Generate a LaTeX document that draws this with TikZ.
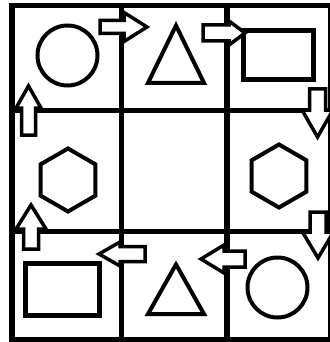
\documentclass[tikz,border=0pt]{standalone}
\begin{document}
\begin{tikzpicture}[x=1pt,y=-1pt,
  gridline/.style={line width=5.5pt,line cap=rect},
  shapeline/.style={line width=4pt,line join=miter},
  boxline/.style={line width=5pt},
  blockarrow/.style={draw=black,fill=white,line width=3.5pt,line join=miter}]
\useasboundingbox (0,0) rectangle (329,342);
\fill[white] (0,0) rectangle (329,342);
% frame and grid
\draw[gridline] (12,5.5) -- (331,5.5);
\draw[gridline] (12,339.5) -- (331,339.5);
\draw[gridline] (12,5.5) -- (12,339.5);
\draw[gridline] (331,5.5) -- (331,339.5);
\draw[gridline] (121.5,5.5) -- (121.5,339.5);
\draw[gridline] (227,5.5) -- (227,339.5);
\draw[line width=5pt] (12,110) -- (331,110);
\draw[line width=5pt] (12,231) -- (331,231);
% shapes
\draw[shapeline] (67.5,55.5) circle[radius=30];
\draw[shapeline] (176,25.5) -- (204,83) -- (148,83) -- cycle;
\draw[boxline] (243,30.5) rectangle (313,79.5);
\draw[shapeline] (68,180) +(90:31.5) -- +(150:31.5) -- +(210:31.5) -- +(270:31.5) -- +(330:31.5) -- +(30:31.5) -- cycle;
\draw[shapeline] (279,176) +(90:31.5) -- +(150:31.5) -- +(210:31.5) -- +(270:31.5) -- +(330:31.5) -- +(30:31.5) -- cycle;
\draw[boxline] (25.5,263.5) rectangle (99.5,315.5);
\draw[shapeline] (176,264.5) -- (204,314) -- (148,314) -- cycle;
\draw[shapeline] (277.5,287.5) circle[radius=30];
% block arrows
% right arrows
\draw[blockarrow] (100,20.5) -- (124,20.5) -- (124,12.5) -- (147,27) -- (124,41.5) -- (124,33.5) -- (100,33.5) -- cycle;
\draw[blockarrow] (203,25) -- (229,25) -- (229,21) -- (245,33) -- (229,45) -- (229,41) -- (203,41) -- cycle;
% down arrows
\draw[blockarrow] (309.5,89) -- (325.5,89) -- (325.5,110) -- (333,110) -- (317.5,137) -- (302,110) -- (309.5,110) -- cycle;
\draw[blockarrow] (310,212) -- (326,212) -- (326,232) -- (333.5,232) -- (318,258) -- (302.5,232) -- (310,232) -- cycle;
% up arrows
\draw[blockarrow] (21.5,135) -- (21.5,108) -- (16,108) -- (28.5,86) -- (41,108) -- (35.5,108) -- (35.5,135) -- cycle;
\draw[blockarrow] (23.5,249) -- (23.5,229) -- (16,229) -- (31,205) -- (46,229) -- (38.5,229) -- (38.5,249) -- cycle;
% left arrows
\draw[blockarrow] (145,246.5) -- (120,246.5) -- (120,242) -- (99,254) -- (120,266) -- (120,261.5) -- (145,261.5) -- cycle;
\draw[blockarrow] (245,251) -- (224,251) -- (224,245) -- (201,259) -- (224,273) -- (224,267) -- (245,267) -- cycle;
\end{tikzpicture}
\end{document}
